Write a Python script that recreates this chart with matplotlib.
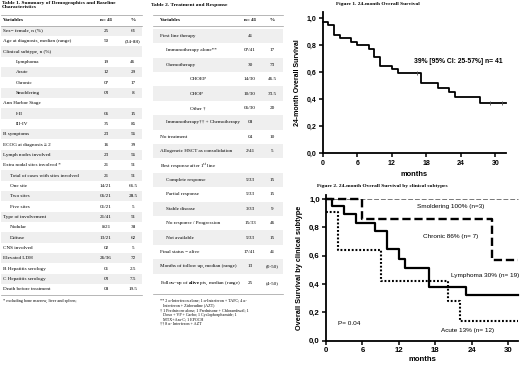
import matplotlib
matplotlib.use('Agg')
import matplotlib.pyplot as plt
from matplotlib.patches import Rectangle
from matplotlib.lines import Line2D

# ---------------- data ----------------
t1_labels = ["Sex= female, n (%)", "Age at diagnosis, median (range)", "Clinical subtype, n (%)",
             "Lymphoma", "Acute", "Chronic", "Smoldering", "Ann Harbor Stage", "I-II", "III-IV",
             "B symptoms", "ECOG at diagnosis \u2265 2", "Lymph nodes involved",
             "Extra nodal sites involved *", "Total of cases with sites involved", "One site",
             "Two sites", "Five sites", "Type of involvement", "Nodular", "Diffuse", "CNS involved",
             "Elevated LDH", "B Hepatitis serology", "C Hepatitis serology", "Death before treatment"]
t1_n = ["25", "50", "", "19", "12", "07", "03", "", "06", "35", "23", "16", "23", "21", "21",
        "14/21", "06/21", "01/21", "21/41", "8/21", "13/21", "02", "26/36", "01", "03", "08"]
t1_pct = ["61", "(34-88)", "", "46", "29", "17", "8", "", "15", "85", "56", "39", "56", "51", "51",
          "66.5", "28.5", "5", "51", "38", "62", "5", "72", "2.5", "7.5", "19.5"]
t1_level = [0, 0, 0, 2, 2, 2, 2, 0, 2, 2, 0, 0, 0, 0, 1, 1, 1, 1, 0, 1, 1, 0, 0, 0, 0, 0]

t2_labels = ["First line therapy", "Immunotherapy alone**", "Chemotherapy", "CHOEP", "CHOP",
             "Other \u2020", "Immunotherapy\u2020\u2020 + Chemotherapy", "No treatment",
             "Allogeneic HSCT as consolidation", r"Best response after 1$^{\mathrm{st}}$ line",
             "Complete response", "Partial response", "Stable disease", "No response / Progression",
             "Not available", "Final status = alive", "Months of follow up, median (range)",
             r"Follow-up of $\mathbf{alive}$ pts, median (range)"]
t2_n = ["41", "07/41", "30", "14/30", "10/30", "06/30", "08", "04", "2/41", "", "5/33", "5/33",
        "3/33", "15/33", "5/33", "17/41", "13", "25"]
t2_pct = ["", "17", "73", "46.5", "33.5", "20", "", "10", "5", "", "15", "15", "9", "46", "15",
          "41", "(0-50)", "(4-50)"]
t2_level = [0, 1, 1, 2, 2, 2, 1, 0, 0, 0, 1, 1, 1, 1, 1, 0, 0, 0]

t2_notes = ["** 2 \u03b1-Interferon alone; 1 \u03b1-Interferon + TAPC; 4 \u03b1-",
            "   Interferon + Zidovudine (AZT)",
            "\u2020 1 Prednisone alone; 1 Prednisone + Chlorambucil; 1",
            "   Doxo + VP + Carbo; 1 Cyclophosphamide; 1",
            "   MTX+Ara-C; 1 EPOCH",
            "\u2020\u2020 8 \u03b1- Interferon + AZT"]

# Figure 1: overall KM
km1_t = [0, 1, 2, 3, 5, 6, 8, 9, 10, 12, 13, 17, 20, 22, 23, 27.3]
km1_s = [0.976, 0.951, 0.876, 0.851, 0.822, 0.800, 0.770, 0.711, 0.650, 0.621, 0.592, 0.522,
         0.486, 0.456, 0.415, 0.370]
km1_end = 31.8
km1_censor_t = [16.4, 29.1, 31.2]
km1_censor_s = [0.592, 0.370, 0.370]

# Figure 2: KM by subtype
lym_t = [0, 1, 3, 5, 8, 10, 12, 13, 17, 23]
lym_s = [1.0, 0.947, 0.895, 0.833, 0.774, 0.645, 0.579, 0.515, 0.381, 0.322]
acu_t = [0, 2, 9, 20, 22]
acu_s = [0.908, 0.642, 0.424, 0.282, 0.141]
chr_t = [0, 6, 27.3]
chr_s = [1.0, 0.857, 0.571]
smo_t = [0]
smo_s = [1.0]
km2_end = 31.6

# ---------------- layout helpers ----------------
W, H = 520, 365
fig = plt.figure(figsize=(5.2, 3.65), dpi=100)
fig.patch.set_facecolor('white')
plt.rcParams['mathtext.fontset'] = 'custom'
plt.rcParams['mathtext.rm'] = 'Liberation Serif'
plt.rcParams['mathtext.bf'] = 'Liberation Serif:bold'

SERIF = 'Liberation Serif'
SANS = 'Liberation Sans'
SHADE = '#efefef'


def fx(x):
    return x / W


def fy(y):
    return 1 - y / H


def hline(x0, x1, y, color='#9a9a9a', lw=0.5):
    fig.add_artist(Line2D([fx(x0), fx(x1)], [fy(y), fy(y)], transform=fig.transFigure,
                          color=color, lw=lw))


def draw_table(x0, x1, ys, hs, labels, levels, indents, nvals, pvals, xn, xp, fs):
    for i, lab in enumerate(labels):
        yc, h = ys[i], hs[i]
        if i % 2 == 0:
            fig.add_artist(Rectangle((fx(x0), fy(yc + h / 2)), fx(x1) - fx(x0), h / H,
                                     transform=fig.transFigure, facecolor=SHADE,
                                     edgecolor='none', zorder=0))
        fig.text(fx(indents[levels[i]]), fy(yc), lab, ha='left', va='center', fontsize=fs,
                 family=SERIF)
        fig.text(fx(xn), fy(yc), nvals[i], ha='center', va='center', fontsize=fs, family=SERIF)
        fig.text(fx(xp), fy(yc), pvals[i], ha='center', va='center', fontsize=fs, family=SERIF)


# ---------------- Table 1 ----------------
FS_T = 3.7
fig.text(fx(2), fy(1), "Table 1. Summary of Demographics and Baseline\nCharacteristics",
         ha='left', va='top', fontsize=3.9, family=SERIF, weight='bold', linespacing=1.15)
hline(1, 142, 15)
fig.text(fx(3), fy(20.3), "Variables", ha='left', va='center', fontsize=FS_T, family=SERIF, weight='bold')
fig.text(fx(106), fy(20.3), "n= 41", ha='center', va='center', fontsize=FS_T, family=SERIF, weight='bold')
fig.text(fx(133), fy(20.3), "%", ha='center', va='center', fontsize=FS_T, family=SERIF, weight='bold')
hline(1, 142, 25.8)
step1 = 10.33
ys1 = [31 + i * step1 for i in range(len(t1_labels))]
hs1 = [step1] * len(t1_labels)
draw_table(1, 142, ys1, hs1, t1_labels, t1_level, [3, 10, 16], t1_n, t1_pct, 106, 133, FS_T)
hline(1, 142, ys1[-1] + step1 / 2 + 0.3)
fig.text(fx(3), fy(300.7), "* excluding bone marrow, liver and spleen;", ha='left', va='center',
         fontsize=3.1, family=SERIF)

# ---------------- Table 2 ----------------
fig.text(fx(151), fy(5), "Table 2. Treatment and Response", ha='left', va='center',
         fontsize=3.9, family=SERIF, weight='bold')
hline(153, 283, 14.5)
fig.text(fx(159.5), fy(20.3), "Variables", ha='left', va='center', fontsize=FS_T, family=SERIF, weight='bold')
fig.text(fx(250), fy(20.3), "n= 41", ha='center', va='center', fontsize=FS_T, family=SERIF, weight='bold')
fig.text(fx(272), fy(20.3), "%", ha='center', va='center', fontsize=FS_T, family=SERIF, weight='bold')
hline(153, 283, 26)
step2 = 14.4
ys2 = [36 + i * step2 for i in range(len(t2_labels) - 1)]
ys2.append(ys2[-1] + step2 / 2 + 9.8)
hs2 = [step2] * (len(t2_labels) - 1) + [19.6]
draw_table(153, 283, ys2, hs2, t2_labels, t2_level, [159.5, 166, 190], t2_n, t2_pct, 250, 272, FS_T)
hline(153, 283, ys2[-1] + 9.8 + 0.3)
for i, line in enumerate(t2_notes):
    fig.text(fx(159.5), fy(300.7 + i * 4.65), line, ha='left', va='center', fontsize=3.0,
             family=SERIF)


# ---------------- KM axes styling ----------------
def style_km(ax, fs_tick):
    for s in ['top', 'right']:
        ax.spines[s].set_visible(False)
    for s in ['left', 'bottom']:
        ax.spines[s].set_linewidth(1.3)
    ax.set_xticks([0, 6, 12, 18, 24, 30])
    ax.set_yticks([0, 0.2, 0.4, 0.6, 0.8, 1.0])
    ax.set_yticklabels([f"{v:.1f}".replace('.', ',') for v in [0, 0.2, 0.4, 0.6, 0.8, 1.0]])
    ax.tick_params(direction='out', length=3, width=1.1, pad=1.5, labelsize=fs_tick)
    for lab in ax.get_xticklabels() + ax.get_yticklabels():
        lab.set_fontfamily(SANS)
        lab.set_fontweight('bold')
    ax.set_facecolor('none')


# ---------------- Figure 1 ----------------
fig.text(fx(378), fy(3.6), "Figure 1. 24-month Overall Survival", ha='center', va='center',
         fontsize=3.9, family=SERIF, weight='bold')
ax1 = fig.add_axes([fx(322.7), fy(153.3), 183 / W, 141.75 / H])
ax1.set_xlim(0, 31.8)
ax1.set_ylim(0, 1.05)
ax1.step(km1_t + [km1_end], km1_s + [km1_s[-1]], where='post', color='black', lw=1.3,
         clip_on=False)
ax1.plot(km1_censor_t, km1_censor_s, ls='none', marker='|', ms=3, mew=0.6, color='#555555')
style_km(ax1, 5.0)
ax1.set_xlabel("months", fontsize=5.4, family=SANS, weight='bold', labelpad=3)
ax1.set_ylabel("24-month Overall Survival", fontsize=5.0, family=SANS, weight='bold', labelpad=4)
ax1.text(15.8, 0.68, "39% [95% CI: 25-57%] n= 41", fontsize=4.9, family=SANS, weight='bold',
         ha='left', va='center')

# ---------------- Figure 2 ----------------
fig.text(fx(316.7), fy(186), "Figure 2. 24-month Overall Survival by clinical subtypes",
         ha='left', va='center', fontsize=3.9, family=SERIF, weight='bold')
ax2 = fig.add_axes([fx(326), fy(340.7), 192 / W, 146 / H])
ax2.set_xlim(0, km2_end)
ax2.set_ylim(0, 1.03)
ax2.step(smo_t + [km2_end], smo_s + [smo_s[-1]], where='post', color='#777777', lw=0.7,
         dashes=(5, 2), clip_on=False)
ax2.step(chr_t + [km2_end], chr_s + [chr_s[-1]], where='post', color='black', lw=1.7,
         dashes=(3.5, 1.6), clip_on=False)
ax2.step(lym_t + [km2_end], lym_s + [lym_s[-1]], where='post', color='black', lw=1.6,
         clip_on=False)
ax2.step(acu_t + [km2_end], acu_s + [acu_s[-1]], where='post', color='black', lw=1.5,
         dashes=(0.9, 0.9), clip_on=False)
style_km(ax2, 5.6)
ax2.set_xlabel("months", fontsize=5.6, family=SANS, weight='bold', labelpad=1.5)
ax2.set_ylabel("Overall Survival by clinical subtype", fontsize=5.3, family=SANS, weight='bold',
               labelpad=4)
ax2.text(14.9, 0.95, "Smoldering 100% (n=3)", fontsize=4.6, family=SANS, ha='left', va='center')
ax2.text(16.0, 0.735, "Chronic 86% (n= 7)", fontsize=4.6, family=SANS, ha='left', va='center')
ax2.text(20.5, 0.46, "Lymphoma 30% (n= 19)", fontsize=4.6, family=SANS, ha='left', va='center')
ax2.text(19.0, 0.075, "Acute 13% (n= 12)", fontsize=4.6, family=SANS, ha='left', va='center')
ax2.text(1.9, 0.118, "P= 0.04", fontsize=4.6, family=SANS, ha='left', va='center')

fig.savefig("out.png", dpi=100, facecolor='white')
